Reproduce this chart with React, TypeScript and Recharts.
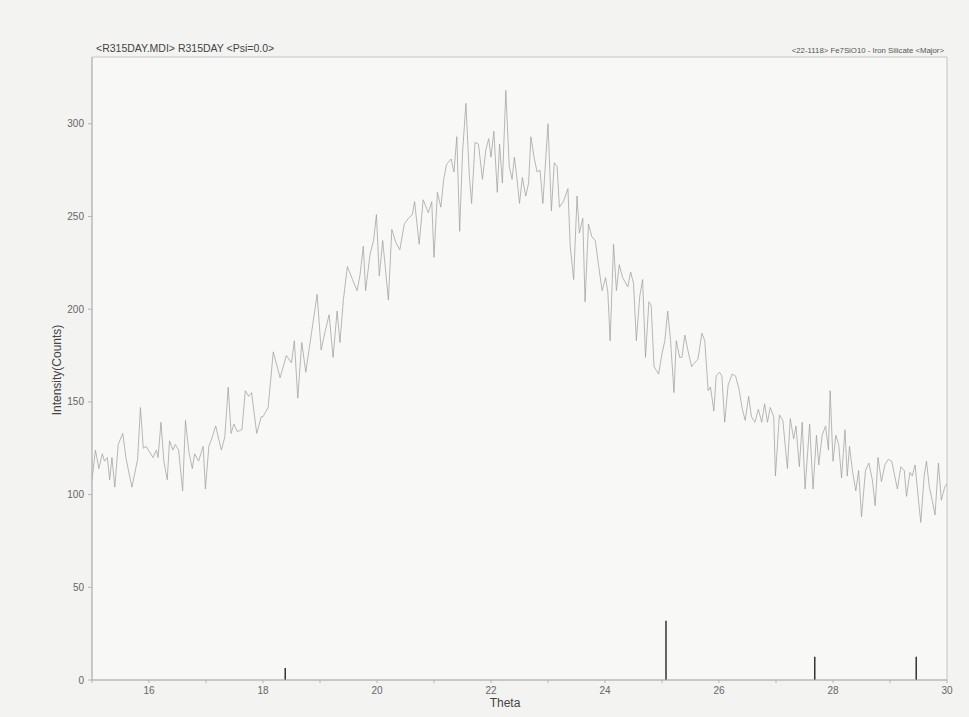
import React from 'react';
import { LineChart, Line, XAxis, YAxis, ReferenceLine, ReferenceArea } from 'recharts';

const theta = [
  15.00, 15.06, 15.12, 15.18, 15.22, 15.27, 15.31, 15.35, 15.40, 15.46, 15.54, 15.60, 15.70, 15.80, 15.85, 15.90, 15.95,
  16.01, 16.07, 16.13, 16.16, 16.21, 16.26, 16.32, 16.36, 16.42, 16.46, 16.52, 16.59, 16.64, 16.70, 16.76, 16.80, 16.87, 16.95, 16.99,
  17.05, 17.11, 17.17, 17.23, 17.27, 17.33, 17.39, 17.44, 17.49, 17.55, 17.63, 17.69, 17.75, 17.80, 17.89, 17.97,
  18.00, 18.09, 18.18, 18.30, 18.41, 18.50, 18.55, 18.61, 18.68, 18.75, 18.85, 18.95,
  19.02, 19.09, 19.16, 19.23, 19.30, 19.35, 19.41, 19.48, 19.57, 19.65, 19.70, 19.76, 19.80, 19.88, 19.94, 19.99,
  20.04, 20.10, 20.20, 20.26, 20.33, 20.40, 20.48, 20.55, 20.62, 20.66, 20.74, 20.81, 20.90, 20.96,
  21.00, 21.06, 21.12, 21.17, 21.22, 21.30, 21.35, 21.40, 21.45, 21.50, 21.56, 21.62, 21.66, 21.72, 21.78, 21.85, 21.91, 21.96,
  22.00, 22.05, 22.11, 22.15, 22.20, 22.26, 22.32, 22.37, 22.41, 22.45, 22.50, 22.55, 22.61, 22.66, 22.70, 22.76, 22.81, 22.86, 22.91, 22.96,
  23.00, 23.06, 23.11, 23.16, 23.20, 23.27, 23.35, 23.39, 23.45, 23.51, 23.55, 23.61, 23.65, 23.71, 23.77, 23.83, 23.89, 23.95,
  24.01, 24.05, 24.09, 24.15, 24.20, 24.25, 24.31, 24.40, 24.45, 24.50, 24.55, 24.61, 24.66, 24.71, 24.77, 24.81, 24.86, 24.90, 24.94,
  25.00, 25.05, 25.10, 25.15, 25.21, 25.25, 25.31, 25.35, 25.40, 25.46, 25.52, 25.57, 25.63, 25.70, 25.75, 25.81, 25.85, 25.91, 25.95,
  26.01, 26.05, 26.10, 26.16, 26.23, 26.29, 26.35, 26.41, 26.46, 26.52, 26.57, 26.63, 26.69, 26.75, 26.80, 26.85, 26.90, 26.96, 26.99,
  27.06, 27.12, 27.20, 27.25, 27.31, 27.35, 27.41, 27.46, 27.51, 27.59, 27.65, 27.71, 27.75, 27.81, 27.87, 27.92, 27.95,
  28.00, 28.05, 28.10, 28.15, 28.21, 28.25, 28.29, 28.34, 28.40, 28.45, 28.50, 28.57, 28.63, 28.69, 28.74, 28.79, 28.85, 28.91, 28.97,
  29.03, 29.07, 29.13, 29.19, 29.25, 29.29, 29.35, 29.39, 29.44, 29.50, 29.54, 29.60, 29.64, 29.69, 29.74, 29.79, 29.85, 29.90, 29.96, 30.00,
];

const intensity = [
  108, 124, 114, 122, 118, 120, 108, 120, 104, 127, 133, 119, 104, 119, 147, 125, 126,
  123, 120, 124, 120, 139, 118, 108, 129, 124, 127, 124, 102, 140, 123, 114, 122, 118, 126, 103,
  126, 131, 137, 129, 124, 131, 158, 133, 138, 134, 135, 156, 153, 155, 133, 142,
  142, 147, 177, 163, 175, 171, 183, 152, 182, 166, 187, 208,
  178, 188, 197, 174, 199, 182, 205, 223, 216, 210, 218, 234, 210, 230, 237, 251,
  218, 237, 205, 243, 236, 232, 246, 249, 251, 258, 235, 259, 252, 258,
  228, 263, 255, 270, 278, 281, 274, 293, 242, 284, 311, 272, 257, 290, 289, 270, 286, 292,
  282, 296, 263, 289, 268, 318, 277, 270, 282, 272, 257, 271, 261, 268, 293, 281, 274, 275, 257, 281,
  300, 253, 279, 277, 255, 258, 265, 234, 216, 261, 241, 249, 204, 246, 239, 237, 223, 210,
  217, 209, 183, 235, 210, 224, 217, 212, 220, 214, 183, 207, 216, 174, 204, 202, 169, 167, 165,
  176, 183, 199, 183, 155, 183, 174, 174, 186, 177, 169, 171, 173, 187, 183, 156, 158, 145, 164,
  166, 164, 139, 159, 165, 164, 157, 146, 140, 153, 142, 139, 146, 139, 149, 139, 147, 142, 110,
  143, 140, 114, 141, 130, 137, 115, 139, 103, 138, 103, 132, 116, 132, 137, 124, 156,
  118, 132, 127, 109, 135, 110, 126, 113, 102, 113, 88, 113, 117, 108, 94, 120, 107, 116, 119,
  118, 112, 103, 115, 113, 99, 112, 110, 116, 97, 85, 110, 118, 104, 97, 89, 117, 97, 104, 106,
];

const stickTheta = [18.39, 25.07, 27.68, 29.46];
const stickHeight = [6.5, 32, 12.6, 12.6];

const xTicks = [15, 16, 17, 18, 19, 20, 21, 22, 23, 24, 25, 26, 27, 28, 29, 30];
const yTicks = [0, 50, 100, 150, 200, 250, 300];

const titleText = '<R315DAY.MDI> R315DAY <Psi=0.0>';
const legendText = '<22-1118> Fe7SiO10 - Iron Silicate <Major>';
const xLabel = 'Theta';
const yLabel = 'Intensity(Counts)';

const rows = theta.map((t, i) => ({ t, v: intensity[i] }));

const FONT = '"Liberation Sans", Arial, sans-serif';

export default function App() {
  return (
    <div
      style={{
        position: 'absolute',
        left: 0,
        top: 0,
        width: 969,
        height: 717,
        background: '#f3f3f2',
        fontFamily: FONT,
        overflow: 'hidden',
      }}
    >
      <LineChart
        width={969}
        height={717}
        data={rows}
        margin={{ top: 57, right: 22, bottom: 0, left: 0 }}
      >
        <ReferenceArea
          x1={15}
          x2={30}
          y1={0}
          y2={336}
          fill="#f8f8f7"
          fillOpacity={1}
          stroke="#c4c4c4"
          strokeWidth={1}
          ifOverflow="visible"
        />
        <XAxis
          type="number"
          dataKey="t"
          domain={[15, 30]}
          ticks={xTicks}
          allowDataOverflow
          height={37}
          stroke="#b4b4b4"
          tickSize={3}
          tickMargin={4}
          tick={{ fill: '#666', fontSize: 10, fontFamily: FONT }}
          tickFormatter={(v: number) => (v % 2 === 0 && v !== 15 ? String(v) : '')}
        />
        <YAxis
          type="number"
          domain={[0, 336]}
          ticks={yTicks}
          allowDataOverflow
          width={92}
          stroke="#b4b4b4"
          tickSize={4}
          tickMargin={4}
          tick={{ fill: '#666', fontSize: 10, fontFamily: FONT }}
        />
        {stickTheta.map((x, i) => (
          <ReferenceLine
            key={i}
            segment={[
              { x, y: 0 },
              { x, y: stickHeight[i] },
            ]}
            stroke="#333"
            strokeWidth={1.5}
          />
        ))}
        <Line
          type="linear"
          dataKey="v"
          stroke="#a0a0a0"
          strokeWidth={0.75}
          dot={false}
          isAnimationActive={false}
        />
      </LineChart>
      <div
        style={{
          position: 'absolute',
          left: 96,
          top: 42,
          fontSize: 10.5,
          color: '#444',
          whiteSpace: 'nowrap',
          lineHeight: '12px',
        }}
      >
        {titleText}
      </div>
      <div
        style={{
          position: 'absolute',
          right: 969 - 944,
          top: 46,
          fontSize: 7.8,
          color: '#555',
          whiteSpace: 'nowrap',
          lineHeight: '9px',
        }}
      >
        {legendText}
      </div>
      <div
        style={{
          position: 'absolute',
          left: 480,
          top: 696,
          width: 50,
          textAlign: 'center',
          fontSize: 12,
          color: '#444',
          whiteSpace: 'nowrap',
        }}
      >
        {xLabel}
      </div>
      <div
        style={{
          position: 'absolute',
          left: 57,
          top: 370,
          fontSize: 12,
          color: '#444',
          whiteSpace: 'nowrap',
          transform: 'translate(-50%, -50%) rotate(-90deg)',
        }}
      >
        {yLabel}
      </div>
    </div>
  );
}
